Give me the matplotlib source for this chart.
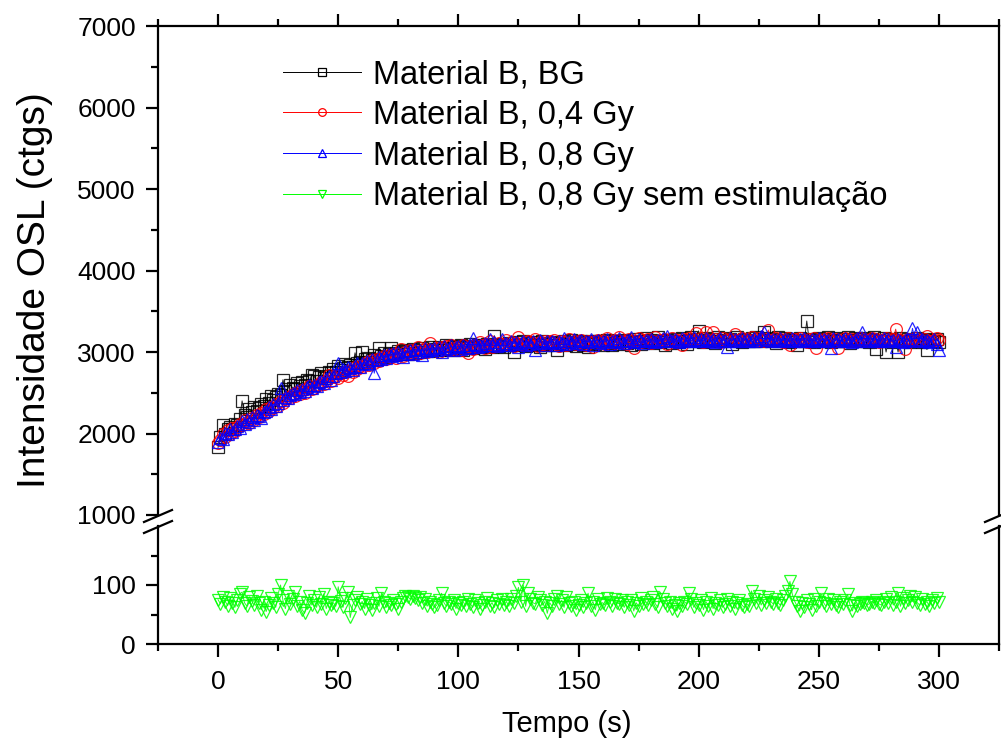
import numpy as np
import matplotlib
matplotlib.use('Agg')
import matplotlib.pyplot as plt
from matplotlib.lines import Line2D
from matplotlib.ticker import MultipleLocator, FixedLocator

plt.rcParams['font.family'] = ['Liberation Sans', 'DejaVu Sans']

time_s = list(range(0, 301))

labels = ["Material B, BG", "Material B, 0,4 Gy", "Material B, 0,8 Gy",
          "Material B, 0,8 Gy sem estimulação"]

bg = [1830, 1960, 2110, 1990, 2060, 2080, 2050, 2120, 2100, 2180,
      2400, 2230, 2200, 2300, 2260, 2320, 2270, 2310, 2360, 2340,
      2420, 2380, 2460, 2410, 2450, 2490, 2470, 2660, 2520, 2550,
      2600, 2560, 2540, 2620, 2580, 2630, 2600, 2660, 2640, 2720,
      2700, 2650, 2690, 2740, 2680, 2710, 2760, 2740, 2790, 2750,
      2830, 2780, 2800, 2850, 2810, 2840, 2820, 2990, 2870, 2880,
      3000, 2910, 2880, 2930, 2900, 2960, 2920, 3050, 2950, 2990,
      2940, 2980, 3050, 2960, 2990, 3010, 2970, 3000, 3020, 2980,
      3010, 3040, 2990, 3030, 3000, 3050, 3020, 3030, 3060, 3010,
      3040, 3020, 3060, 3030, 3050, 3080, 3040, 3020, 3070, 3060,
      3050, 3080, 3030, 3070, 3060, 3100, 3050, 3070, 3090, 3060,
      3080, 3040, 3100, 3070, 3060, 3200, 3090, 3070, 3100, 3060,
      3090, 3110, 3080, 3000, 3120, 3090, 3100, 3130, 3070, 3110,
      3080, 3120, 3100, 3090, 3060, 3130, 3100, 3080, 3110, 3120,
      3090, 3030, 3110, 3100, 3130, 3080, 3120, 3150, 3100, 3070,
      3110, 3140, 3090, 3120, 3060, 3130, 3110, 3100, 3140, 3120,
      3090, 3130, 3150, 3110, 3080, 3140, 3120, 3100, 3130, 3150,
      3110, 3140, 3090, 3120, 3160, 3130, 3100, 3140, 3170, 3120,
      3150, 3110, 3140, 3190, 3120, 3130, 3090, 3150, 3140, 3110,
      3160, 3130, 3120, 3170, 3140, 3100, 3150, 3180, 3130, 3160,
      3260, 3140, 3120, 3170, 3150, 3130, 3160, 3110, 3180, 3140,
      3150, 3170, 3130, 3160, 3100, 3150, 3180, 3140, 3120, 3160,
      3150, 3130, 3170, 3140, 3190, 3160, 3130, 3250, 3150, 3170,
      3140, 3160, 3110, 3180, 3150, 3130, 3170, 3150, 3120, 3160,
      3140, 3080, 3170, 3150, 3130, 3380, 3140, 3160, 3120, 3150,
      3170, 3130, 3160, 3140, 3180, 3120, 3150, 3170, 3140, 3130,
      3160, 3140, 3180, 3110, 3150, 3170, 3130, 3160, 3140, 3170,
      3150, 3120, 3160, 3180, 3040, 3150, 3130, 3170, 3000, 3140,
      3160, 3120, 3150, 3000, 3170, 3140, 3130, 3160, 3120, 3150,
      3130, 3170, 3140, 3120, 3160, 3030, 3150, 3130, 3140, 3160,
      3120]

dose_04 = [1880, 1920, 1990, 1960, 2040, 2000, 2070, 2030, 2080, 2120,
           2100, 2160, 2140, 2130, 2190, 2170, 2230, 2200, 2250, 2240,
           2300, 2280, 2330, 2310, 2360, 2340, 2400, 2380, 2420, 2450,
           2440, 2480, 2460, 2510, 2490, 2530, 2500, 2550, 2580, 2540,
           2560, 2600, 2590, 2630, 2610, 2650, 2720, 2640, 2690, 2700,
           2680, 2740, 2720, 2750, 2700, 2780, 2760, 2810, 2790, 2830,
           2820, 2850, 2880, 2840, 2900, 2870, 2910, 2890, 2930, 2950,
           2910, 2960, 2940, 2980, 2930, 2970, 3040, 2950, 3000, 2990,
           3030, 2970, 3010, 3060, 2990, 3020, 3040, 3000, 3110, 3030,
           3020, 3050, 3000, 3060, 3040, 3070, 3030, 3090, 3050, 3020,
           3060, 3030, 3080, 3050, 2990, 3070, 3040, 3090, 3060, 3120,
           3080, 3050, 3100, 3140, 3060, 3090, 3070, 3110, 3080, 3100,
           3150, 3090, 3120, 3070, 3110, 3180, 3100, 3080, 3120, 3140,
           3090, 3110, 3160, 3070, 3120, 3100, 3140, 3090, 3130, 3110,
           3150, 3100, 3070, 3130, 3120, 3090, 3160, 3110, 3130, 3100,
           3120, 3150, 3100, 3090, 3140, 3120, 3060, 3130, 3150, 3110,
           3140, 3100, 3170, 3120, 3130, 3110, 3150, 3180, 3120, 3140,
           3100, 3160, 3130, 3050, 3140, 3170, 3120, 3150, 3130, 3160,
           3110, 3140, 3180, 3120, 3150, 3130, 3160, 3100, 3140, 3170,
           3120, 3150, 3130, 3080, 3160, 3140, 3170, 3130, 3150, 3230,
           3140, 3170, 3120, 3250, 3150, 3130, 3240, 3160, 3140, 3120,
           3170, 3150, 3130, 3160, 3140, 3220, 3150, 3130, 3170, 3140,
           3160, 3130, 3180, 3150, 3140, 3170, 3150, 3130, 3160, 3270,
           3150, 3130, 3170, 3140, 3160, 3120, 3150, 3170, 3080, 3140,
           3160, 3130, 3170, 3140, 3150, 3120, 3160, 3140, 3170, 3050,
           3150, 3130, 3160, 3140, 3170, 3150, 3120, 3160, 3050, 3140,
           3130, 3170, 3150, 3140, 3160, 3130, 3150, 3170, 3140, 3160,
           3130, 3150, 3170, 3140, 3160, 3120, 3150, 3140, 3170, 3150,
           3130, 3160, 3280, 3140, 3150, 3130, 3040, 3160, 3140, 3150,
           3170, 3130, 3150, 3140, 3160, 3200, 3140, 3130, 3150, 3170,
           3150]

dose_08 = [1900, 1950, 1930, 2010, 1990, 2050, 2020, 2060, 2090, 2070,
           2150, 2120, 2180, 2140, 2200, 2170, 2230, 2210, 2190, 2260,
           2280, 2320, 2300, 2360, 2340, 2380, 2560, 2410, 2450, 2430,
           2470, 2500, 2480, 2530, 2510, 2550, 2520, 2570, 2600, 2560,
           2600, 2580, 2630, 2640, 2620, 2680, 2700, 2660, 2710, 2740,
           2870, 2760, 2790, 2770, 2820, 2800, 2780, 2830, 2860, 2810,
           2870, 2850, 2890, 2860, 2920, 2740, 2900, 2940, 2910, 2960,
           2930, 2970, 2950, 2990, 2960, 3000, 2980, 2940, 3010, 2990,
           3020, 2980, 3040, 3000, 3030, 2960, 3050, 3010, 3040, 3020,
           3050, 3030, 3060, 3000, 3070, 3040, 3050, 3080, 3030, 3060,
           3070, 3040, 3090, 3060, 3050, 3080, 3170, 3100, 3060, 3090,
           3070, 3110, 3080, 3160, 3090, 3120, 3070, 3100, 3160, 3090,
           3110, 3080, 3130, 3100, 3120, 3060, 3110, 3140, 3090, 3120,
           3100, 3130, 3030, 3110, 3150, 3120, 3090, 3130, 3110, 3140,
           3120, 3090, 3130, 3110, 3170, 3100, 3140, 3120, 3160, 3110,
           3130, 3150, 3100, 3140, 3120, 3160, 3090, 3130, 3150, 3110,
           3140, 3120, 3160, 3100, 3130, 3150, 3120, 3170, 3140, 3110,
           3150, 3130, 3180, 3120, 3140, 3160, 3130, 3110, 3150, 3130,
           3160, 3140, 3120, 3150, 3130, 3170, 3140, 3200, 3150, 3130,
           3160, 3140, 3120, 3170, 3150, 3130, 3160, 3140, 3180, 3150,
           3130, 3160, 3140, 3170, 3150, 3130, 3160, 3120, 3150, 3170,
           3140, 3150, 3060, 3170, 3140, 3160, 3130, 3150, 3170, 3140,
           3160, 3130, 3150, 3170, 3140, 3160, 3200, 3250, 3150, 3170,
           3140, 3160, 3150, 3130, 3170, 3140, 3160, 3150, 3130, 3170,
           3150, 3130, 3160, 3140, 3170, 3150, 3130, 3160, 3140, 3150,
           3170, 3140, 3160, 3130, 3150, 3050, 3170, 3140, 3160, 3130,
           3150, 3170, 3140, 3160, 3120, 3150, 3170, 3140, 3250, 3160,
           3130, 3150, 3170, 3140, 3160, 3130, 3150, 3170, 3140, 3160,
           3130, 3150, 3060, 3160, 3140, 3120, 3150, 3160, 3130, 3290,
           3150, 3240, 3130, 3160, 3140, 3150, 3120, 3140, 3160, 3100,
           3030]

dose_08_no_stim = [75, 68, 80, 72, 65, 78, 70, 62, 74, 85,
                   88, 70, 64, 80, 73, 66, 82, 69, 58, 72,
                   55, 66, 78, 70, 62, 85, 100, 74, 60, 81,
                   68, 76, 88, 64, 72, 58, 52, 70, 82, 66,
                   74, 62, 80, 68, 85, 60, 72, 66, 70, 64,
                   97, 73, 62, 78, 88, 45, 66, 74, 80, 68,
                   72, 60, 76, 66, 58, 70, 78, 64, 86, 72,
                   62, 70, 66, 74, 68, 60, 72, 78, 82, 80,
                   76, 82, 78, 74, 80, 70, 76, 64, 72, 68,
                   62, 66, 74, 86, 70, 64, 72, 68, 74, 60,
                   70, 66, 72, 64, 76, 68, 62, 74, 70, 60,
                   66, 72, 78, 64, 70, 62, 74, 68, 76, 66,
                   72, 64, 76, 70, 82, 96, 72, 100, 64, 86,
                   76, 70, 68, 80, 74, 66, 72, 52, 70, 64,
                   76, 82, 68, 74, 62, 80, 70, 64, 72, 58,
                   66, 74, 62, 70, 86, 64, 72, 58, 76, 68,
                   70, 66, 78, 72, 64, 76, 70, 68, 74, 62,
                   72, 66, 74, 56, 70, 64, 78, 68, 72, 66,
                   74, 80, 68, 62, 88, 76, 70, 64, 72, 60,
                   66, 56, 70, 64, 72, 68, 86, 76, 62, 70,
                   66, 74, 58, 72, 64, 78, 60, 70, 66, 74,
                   62, 68, 76, 64, 72, 60, 70, 74, 66, 62,
                   68, 64, 90, 76, 70, 82, 66, 74, 70, 80,
                   72, 68, 76, 70, 66, 74, 82, 90, 106, 84,
                   72, 64, 56, 70, 62, 74, 68, 58, 76, 64,
                   72, 86, 70, 64, 76, 68, 74, 66, 62, 72,
                   68, 74, 84, 66, 56, 70, 64, 68, 72, 70,
                   66, 68, 72, 70, 74, 68, 66, 72, 76, 70,
                   80, 66, 72, 86, 64, 78, 70, 74, 82, 72,
                   80, 70, 66, 76, 68, 72, 64, 74, 70, 78,
                   72]

series = [bg, dose_04, dose_08, dose_08_no_stim]
colors = ['#000000', '#ff0000', '#0000ff', '#00ff00']
markers = ['s', 'o', '^', 'v']

W, H = 1001, 744
fig = plt.figure(figsize=(W / 100, H / 100), dpi=100)


def rect(x0, y0, x1, y1):
    return [x0 / W, 1 - y1 / H, (x1 - x0) / W, (y1 - y0) / H]


ax_top = fig.add_axes(rect(158, 26, 999, 515))
ax_bot = fig.add_axes(rect(158, 526, 999, 644))

handles = []
for ax in (ax_top, ax_bot):
    for vals, c, m, lab in zip(series, colors, markers, labels):
        h, = ax.plot(time_s, vals, color=c, lw=0.7, marker=m, ms=8.5,
                     mfc='none', mec=c, mew=0.9, alpha=0.85, label=lab)
        if ax is ax_top:
            handles.append(h)

for ax in (ax_top, ax_bot):
    ax.set_xlim(-25, 325)
    for s in ax.spines.values():
        s.set_linewidth(1.6)
    ax.xaxis.set_major_locator(MultipleLocator(50))
    ax.xaxis.set_minor_locator(MultipleLocator(25))
    ax.tick_params(which='major', length=9, width=1.6, direction='out',
                   labelsize=19, pad=7)
    ax.tick_params(which='minor', length=5, width=1.6, direction='out')
    ax.tick_params(axis='y', which='both', right=False)
    ax.tick_params(axis='x', which='major', pad=10)

ax_top.set_ylim(1000, 7000)
ax_top.yaxis.set_major_locator(MultipleLocator(1000))
ax_top.yaxis.set_minor_locator(MultipleLocator(500))
ax_top.spines['bottom'].set_visible(False)
ax_top.tick_params(axis='x', which='both', bottom=False, top=True,
                   labelbottom=False, labeltop=False)

ax_bot.set_ylim(0, 200)
ax_bot.yaxis.set_major_locator(FixedLocator([0, 100]))
ax_bot.yaxis.set_minor_locator(FixedLocator([50, 150]))
ax_bot.spines['top'].set_visible(False)
ax_bot.tick_params(axis='x', which='both', top=False, bottom=True)

# axis break marks
for xc in (158, 999):
    for yc in (516, 527):
        fig.add_artist(Line2D([(xc - 14) / W, (xc + 14) / W],
                              [1 - (yc + 6) / H, 1 - (yc - 6) / H],
                              color='black', lw=1.6))

leg = ax_top.legend(handles=handles, loc='upper left',
                    bbox_to_anchor=(283 / W, 1 - 59 / H),
                    bbox_transform=fig.transFigure, frameon=False,
                    fontsize=23.5, handlelength=2.4, handletextpad=0.35,
                    labelspacing=0.3, markerscale=0.65, borderpad=0,
                    borderaxespad=0)
for lh in leg.get_lines():
    lh.set_alpha(1)

fig.text(35 / W, 1 - 290 / H, 'Intensidade OSL (ctgs)', rotation=90,
         ha='center', va='center', fontsize=28)
fig.text(567 / W, 1 - 724 / H, 'Tempo (s)', ha='center', va='center',
         fontsize=21)

fig.savefig('out.png', dpi=100)
